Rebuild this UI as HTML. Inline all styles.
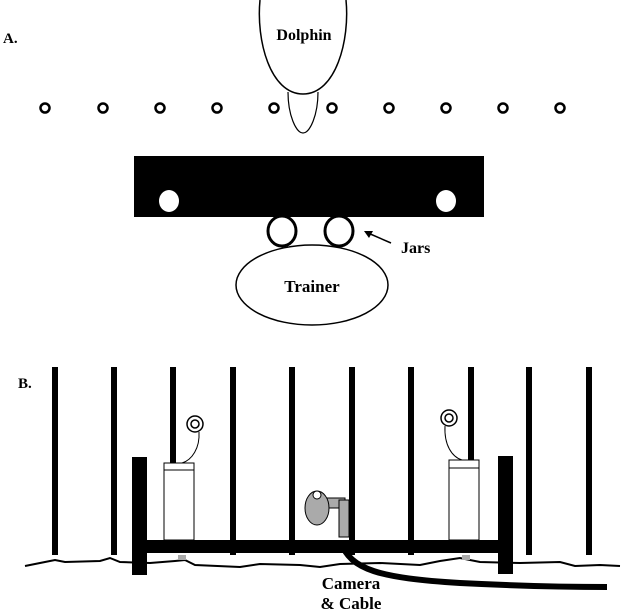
<!DOCTYPE html>
<html><head><style>
html,body{margin:0;padding:0;background:#fff;}
svg{display:block;}
text{font-family:"Liberation Serif",serif;font-weight:bold;fill:#000;}
</style></head><body>
<svg width="628" height="611" viewBox="0 0 628 611" xmlns="http://www.w3.org/2000/svg">
<!-- Panel A -->
<text x="3" y="43" font-size="15">A.</text>
<path d="M288,92 C288,115 296,133 303,133 C310,133 318,115 318,92" fill="#fff" stroke="#000" stroke-width="1.2"/>
<path d="M260,0 C256,40 270,94 303,94 C336,94 350,40 346,0" fill="#fff" stroke="#000" stroke-width="1.5"/>
<text x="304" y="40" font-size="16" text-anchor="middle">Dolphin</text>
<g fill="none" stroke="#000" stroke-width="2.5">
<circle cx="45" cy="108" r="4.5"/><circle cx="103" cy="108" r="4.5"/><circle cx="160" cy="108" r="4.5"/>
<circle cx="217" cy="108" r="4.5"/><circle cx="274" cy="108" r="4.5"/><circle cx="332" cy="108" r="4.5"/>
<circle cx="389" cy="108" r="4.5"/><circle cx="446" cy="108" r="4.5"/><circle cx="503" cy="108" r="4.5"/>
<circle cx="560" cy="108" r="4.5"/>
</g>
<rect x="134" y="156" width="350" height="61" fill="#000"/>
<ellipse cx="169" cy="201" rx="10" ry="11" fill="#fff"/>
<ellipse cx="446" cy="201" rx="10" ry="11" fill="#fff"/>
<ellipse cx="282" cy="231" rx="14" ry="15" fill="#fff" stroke="#000" stroke-width="3"/>
<ellipse cx="339" cy="231" rx="14" ry="15" fill="#fff" stroke="#000" stroke-width="3"/>
<line x1="391" y1="243" x2="368" y2="233" stroke="#000" stroke-width="1.5"/>
<polygon points="364,231 373,231 369,238" fill="#000"/>
<text x="401" y="253" font-size="16">Jars</text>
<ellipse cx="312" cy="285" rx="76" ry="40" fill="#fff" stroke="#000" stroke-width="1.5"/>
<text x="312" y="292" font-size="17" text-anchor="middle">Trainer</text>

<!-- Panel B -->
<text x="18" y="388" font-size="15">B.</text>
<g fill="#000">
<rect x="52" y="367" width="6" height="188"/><rect x="111" y="367" width="6" height="188"/>
<rect x="170" y="367" width="6" height="100"/><rect x="230" y="367" width="6" height="188"/>
<rect x="289" y="367" width="6" height="188"/><rect x="349" y="367" width="6" height="188"/>
<rect x="408" y="367" width="6" height="188"/><rect x="468" y="367" width="6" height="100"/>
<rect x="526" y="367" width="6" height="188"/><rect x="586" y="367" width="6" height="188"/>
</g>
<path d="M25,566 L45,562 L55,560 L65,562 L100,561 L110,558 L120,562 L150,563 L175,561 L185,560 L195,565 L240,567 L260,564 L300,565 L320,567 L340,564 L380,563 L420,565 L440,561 L460,558 L480,562 L520,563 L560,562 L575,566 L600,565 L620,566" fill="none" stroke="#000" stroke-width="2"/>
<rect x="164" y="463" width="30" height="77" fill="#fff" stroke="#000" stroke-width="1"/>
<line x1="164" y1="470" x2="194" y2="470" stroke="#000" stroke-width="1"/>
<rect x="449" y="460" width="30" height="80" fill="#fff" stroke="#000" stroke-width="1"/>
<line x1="449" y1="468" x2="479" y2="468" stroke="#000" stroke-width="1"/>
<circle cx="195" cy="424" r="8" fill="#fff" stroke="#000" stroke-width="1.5"/>
<circle cx="195" cy="424" r="4" fill="#fff" stroke="#000" stroke-width="1.5"/>
<path d="M199,432 C200,448 192,460 182,463" fill="none" stroke="#000" stroke-width="1"/>
<circle cx="449" cy="418" r="8" fill="#fff" stroke="#000" stroke-width="1.5"/>
<circle cx="449" cy="418" r="4" fill="#fff" stroke="#000" stroke-width="1.5"/>
<path d="M445,426 C444,445 452,457 462,460" fill="none" stroke="#000" stroke-width="1"/>
<rect x="132" y="457" width="15" height="118" fill="#000"/>
<rect x="498" y="456" width="15" height="118" fill="#000"/>
<rect x="140" y="540" width="365" height="13" fill="#000"/>
<rect x="178" y="555" width="8" height="5" fill="#aaa"/>
<rect x="462" y="555" width="8" height="5" fill="#aaa"/>
<!-- camera -->
<path d="M341,542 C350,570 380,578 460,583 C520,586 580,587 607,587" fill="none" stroke="#000" stroke-width="6"/>
<rect x="321" y="498" width="24" height="10" fill="#aaa" stroke="#000" stroke-width="1"/>
<rect x="339" y="500" width="10" height="37" fill="#aaa" stroke="#000" stroke-width="1"/>
<ellipse cx="317" cy="508" rx="12" ry="17" fill="#aaa" stroke="#000" stroke-width="1"/>
<circle cx="317" cy="495" r="4" fill="#fff" stroke="#000" stroke-width="1"/>
<text x="351" y="589" font-size="17" text-anchor="middle">Camera</text>
<text x="351" y="609" font-size="17" text-anchor="middle">&amp; Cable</text>
</svg>
</body></html>
